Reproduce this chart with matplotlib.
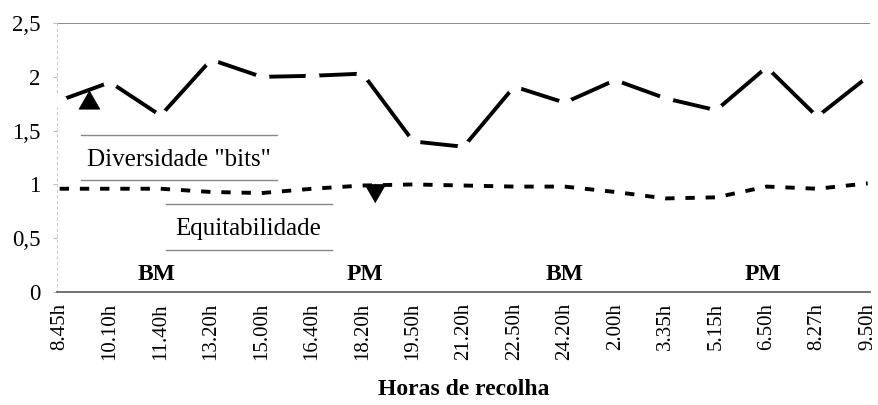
import matplotlib
matplotlib.use("Agg")
import matplotlib.pyplot as plt

horas = ["8.45h", "10.10h", "11.40h", "13.20h", "15.00h", "16.40h", "18.20h", "19.50h",
         "21.20h", "22.50h", "24.20h", "2.00h", "3.35h", "5.15h", "6.50h", "8.27h", "9.50h"]
diversidade = [1.78, 1.95, 1.64, 2.16, 2.00, 2.01, 2.03, 1.40, 1.35, 1.91, 1.76, 1.97,
               1.80, 1.69, 2.09, 1.63, 2.00]
equitabilidade = [0.96, 0.96, 0.96, 0.93, 0.92, 0.96, 0.99, 1.00, 0.99, 0.98, 0.98, 0.93,
                  0.87, 0.88, 0.98, 0.96, 1.01]
yticks = [0, 0.5, 1, 1.5, 2, 2.5]
ytick_labels = ["0", "0,5", "1", "1,5", "2", "2,5"]
periodos = ["BM", "PM", "BM", "PM"]
periodo_x = [1.91, 6.05, 10.0, 13.93]

plt.rcParams['font.family'] = ['Liberation Serif', 'DejaVu Serif']

fig = plt.figure(figsize=(8.79, 4.05), dpi=100)
ax = fig.add_axes([0.065, 0.279, 0.925, 0.664])

x = list(range(len(horas)))
ax.plot(x, diversidade, color='black', lw=2.8, solid_capstyle='butt',
        marker='o', ms=9, mfc='white', mec='white', zorder=3)
ax.plot(x, equitabilidade, color='black', lw=2.8, linestyle=(0, (2.4, 2.8)),
        dash_capstyle='butt', zorder=3)

ax.set_xlim(-0.05, 16.05)
ax.set_ylim(0, 2.5)
ax.set_yticks(yticks)
ax.set_yticklabels(ytick_labels, fontsize=16.5)
ax.set_xticks(x)
ax.set_xticklabels(horas, rotation=90, fontsize=15)
ax.tick_params(axis='x', length=0, pad=8)
ax.tick_params(axis='y', length=3, color='#bbbbbb', pad=9)

ax.axhline(2.5, color='#777777', lw=1.2, zorder=1)
for s in ['top', 'right']:
    ax.spines[s].set_visible(False)
ax.spines['bottom'].set_color('#666666')
ax.spines['bottom'].set_linewidth(1.3)
ax.spines['left'].set_color('#cccccc')
ax.spines['left'].set_linestyle((0, (2, 3)))
ax.spines['left'].set_linewidth(0.8)

ax.set_xlabel("Horas de recolha", fontsize=17, fontweight='bold', labelpad=13)

# Annotation boxes
ax.text(2.36, 1.23, 'Diversidade "bits"', fontsize=18, ha='center', va='center')
ax.plot([0.43, 4.3], [1.46, 1.46], color='#888888', lw=1.0)
ax.plot([0.43, 4.3], [1.04, 1.04], color='#888888', lw=1.0)
ax.annotate('', xy=(0.59, 1.90), xytext=(0.59, 1.68),
            arrowprops=dict(arrowstyle='-|>,head_length=1.3,head_width=0.75',
                            color='black', lw=0.5))

ax.text(3.74, 0.585, 'Equitabilidade', fontsize=18, ha='center', va='center')
ax.plot([2.1, 5.4], [0.82, 0.82], color='#888888', lw=1.0)
ax.plot([2.1, 5.4], [0.39, 0.39], color='#888888', lw=1.0)
ax.annotate('', xy=(6.25, 0.80), xytext=(6.25, 1.03),
            arrowprops=dict(arrowstyle='-|>,head_length=1.3,head_width=0.75',
                            color='black', lw=0.5))

for px, lab in zip(periodo_x, periodos):
    ax.text(px, 0.16, lab, fontsize=17, fontweight='bold', ha='center', va='center')

fig.savefig("out.png", dpi=100)
